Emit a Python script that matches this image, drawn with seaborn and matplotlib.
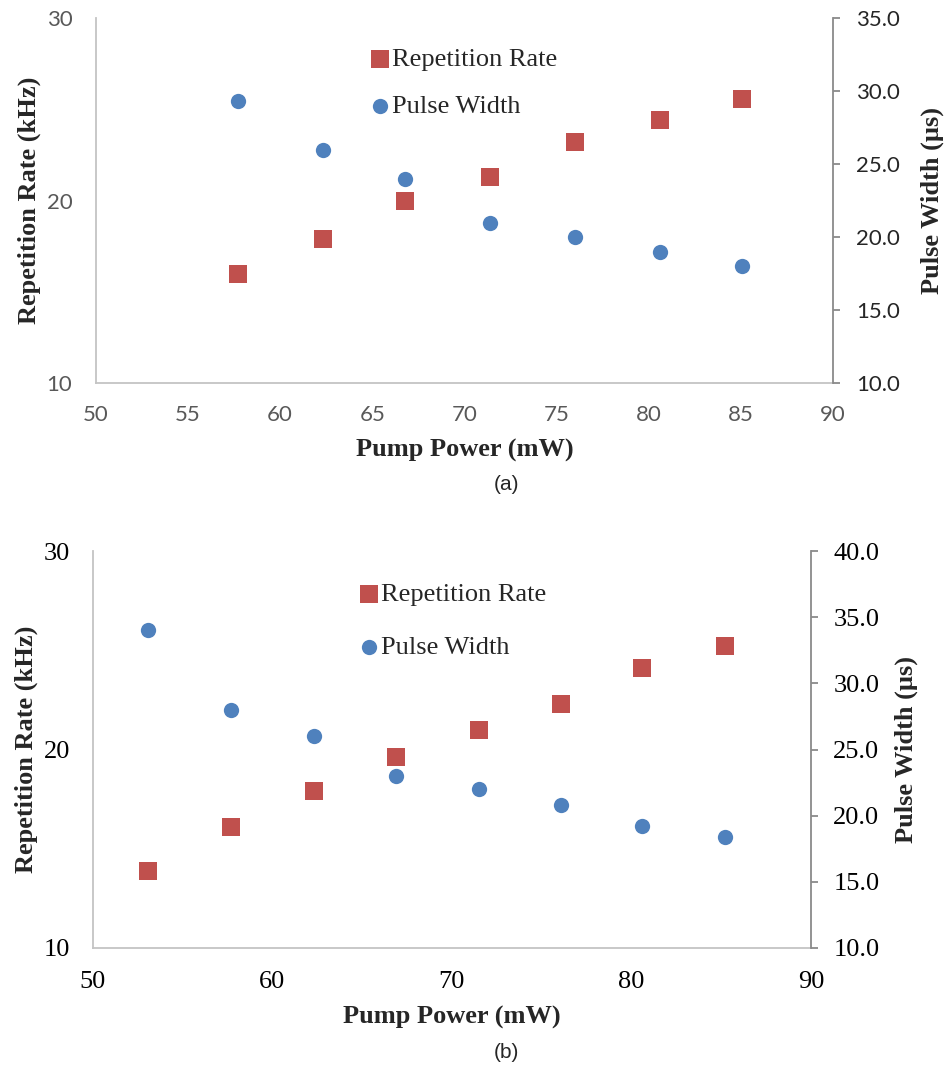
import matplotlib
matplotlib.use("Agg")
import matplotlib.pyplot as plt
import seaborn as sns
import pandas as pd

# Panel (a)
pump_a = [57.7, 62.3, 66.8, 71.4, 76.0, 80.6, 85.1]
rep_a = [16.0, 17.9, 20.0, 21.3, 23.2, 24.4, 25.6]
width_a = [29.3, 26.0, 24.0, 21.0, 20.0, 19.0, 18.0]

# Panel (b)
pump_b = [53.1, 57.7, 62.3, 66.9, 71.5, 76.1, 80.6, 85.2]
rep_b = [13.9, 16.1, 17.9, 19.6, 21.0, 22.3, 24.1, 25.2]
width_b = [34.0, 28.0, 26.0, 23.0, 22.0, 20.8, 19.2, 18.4]

RED = "#C0504D"
BLUE = "#4F81BD"

sns.set_style("white")
plt.rcParams["font.family"] = ["Liberation Serif", "DejaVu Serif"]

fig = plt.figure(figsize=(9.48, 10.73), dpi=100)
W, H = 948.0, 1073.0


def panel(rect, pump, rep, width, xticks, y2lim, y2ticks, tick_font, tick_size,
          left_color, right_color, ypad, xpad, rpad, ylab_x, y2lab_x, xlab_y,
          leg_xy, leg_space, tag, tag_y):
    l, t, r, b = rect
    ax = fig.add_axes([l / W, 1 - b / H, (r - l) / W, (b - t) / H])
    ax2 = ax.twinx()

    df = pd.DataFrame({"pump": pump, "rep": rep, "width": width})
    sns.scatterplot(data=df, x="pump", y="rep", ax=ax, marker="s", s=168,
                    color=RED, linewidth=0, label="Repetition Rate", legend=False)
    sns.scatterplot(data=df, x="pump", y="width", ax=ax2, marker="o", s=121,
                    color=BLUE, linewidth=0, label="Pulse Width", legend=False)
    for a in (ax, ax2):
        if a.get_legend() is not None:
            a.get_legend().remove()

    ax.set_xlim(50, 90)
    ax.set_ylim(10, 30)
    ax.set_xticks(xticks)
    ax.set_yticks([10, 20, 30])
    ax2.set_ylim(*y2lim)
    ax2.set_yticks(y2ticks)
    ax2.set_yticklabels([f"{v:.1f}" for v in y2ticks])

    for s in ("top", "right"):
        ax.spines[s].set_visible(False)
    for s in ("left", "bottom"):
        ax.spines[s].set_color("#c4c4c4")
        ax.spines[s].set_linewidth(1.3)
    for s in ("top", "left", "bottom"):
        ax2.spines[s].set_visible(False)
    ax2.spines["right"].set_color("#8a8a8a")
    ax2.spines["right"].set_linewidth(1.3)

    ax.tick_params(axis="x", length=0, pad=xpad)
    ax.tick_params(axis="y", length=0, pad=ypad)
    ax2.tick_params(axis="y", length=5, width=1.3, color="#8a8a8a", pad=rpad,
                    direction="out")
    for lab in ax.get_xticklabels() + ax.get_yticklabels():
        lab.set_fontfamily(tick_font)
        lab.set_fontsize(tick_size)
        lab.set_color(left_color)
    for lab in ax2.get_yticklabels():
        lab.set_fontfamily(tick_font)
        lab.set_fontsize(tick_size)
        lab.set_color(right_color)

    lab_kw = dict(fontsize=19, fontweight="bold", family="Liberation Serif")
    ax.set_xlabel("Pump Power (mW)", **lab_kw)
    ax.set_ylabel("Repetition Rate (kHz)", **lab_kw)
    ax2.set_ylabel("Pulse Width (\u00b5s)", **lab_kw)
    ax.xaxis.set_label_coords(0.5, xlab_y)
    ax.xaxis.label.set_va("center")
    ax.yaxis.set_label_coords(ylab_x, 0.5)
    ax.yaxis.label.set_va("center")
    ax2.yaxis.set_label_coords(y2lab_x, 0.5)
    ax2.yaxis.label.set_va("center")

    handles = ax.get_legend_handles_labels()[0] + ax2.get_legend_handles_labels()[0]
    labels = ["Repetition Rate", "Pulse Width"]
    ax2.legend(handles, labels, loc="upper left", bbox_to_anchor=leg_xy,
               frameon=False, borderpad=0, borderaxespad=0, handlelength=0.5,
               handletextpad=0.2, labelspacing=leg_space,
               prop={"family": "Liberation Serif", "size": 19})

    fig.text(506 / W, 1 - tag_y / H, tag, ha="center", va="center",
             family="Liberation Sans", fontsize=15)
    return ax, ax2


panel((96, 18.3, 832.7, 383), pump_a, rep_a, width_a,
      [50, 55, 60, 65, 70, 75, 80, 85, 90], (10, 35),
      [10, 15, 20, 25, 30, 35], "Lato", 16, "#595959", "#262626",
      ypad=17, xpad=16, rpad=12, ylab_x=-0.091, y2lab_x=1.1355, xlab_y=-0.184,
      leg_xy=(0.3765, 0.919), leg_space=0.87, tag="(a)", tag_y=484)

panel((92.7, 551, 811, 948), pump_b, rep_b, width_b,
      [50, 60, 70, 80, 90], (10, 40),
      [10, 15, 20, 25, 30, 35, 40], "Liberation Serif", 19, "#000000", "#000000",
      ypad=16.5, xpad=16.5, rpad=11, ylab_x=-0.093, y2lab_x=1.133, xlab_y=-0.176,
      leg_xy=(0.376, 0.921), leg_space=1.14, tag="(b)", tag_y=1053)

fig.savefig("out.png", dpi=100)
